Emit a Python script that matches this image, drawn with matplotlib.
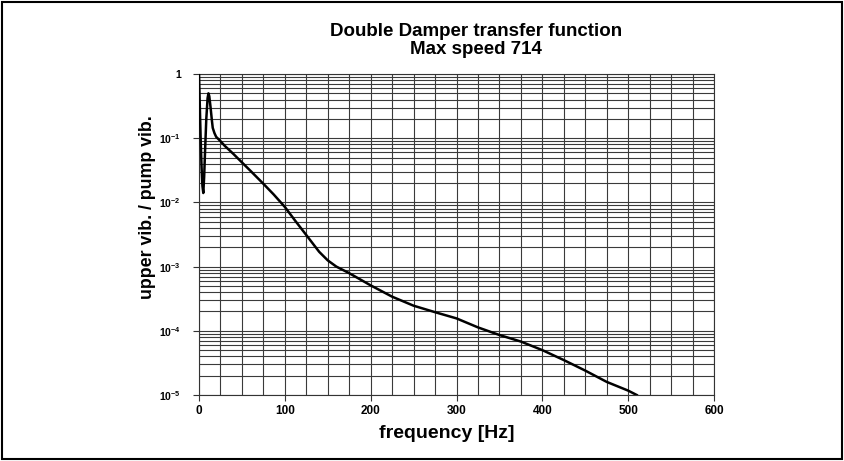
import matplotlib
matplotlib.use("Agg")
import matplotlib.pyplot as plt
from matplotlib.ticker import FixedLocator, LogLocator, NullFormatter
from matplotlib.patches import Rectangle

plt.rcParams["font.family"] = ["Liberation Sans", "DejaVu Sans"]
plt.rcParams["mathtext.fontset"] = "custom"
plt.rcParams["mathtext.rm"] = "Liberation Sans:bold"
plt.rcParams["mathtext.bf"] = "Liberation Sans:bold"

# dữ liệu
freq = [0, 1, 2, 3, 4, 5, 6, 7, 8.5, 10, 11, 12, 13.5, 15, 16, 18, 20, 25, 30,
        40, 50, 60, 75, 87, 100, 112, 125, 140, 150, 160, 175, 200, 225, 250,
        275, 300, 325, 350, 375, 400, 425, 450, 475, 500, 510]
ratio = [1.0, 0.3, 0.09, 0.035, 0.018, 0.014, 0.025, 0.06, 0.2, 0.42, 0.5, 0.45,
         0.3, 0.19, 0.145, 0.12, 0.105, 0.09, 0.076, 0.057, 0.042, 0.031, 0.0195,
         0.0133, 0.0085, 0.0052, 0.0031, 0.0017, 0.00125, 0.001, 0.00079, 0.00051,
         0.00034, 0.000246, 0.000195, 0.000156, 0.000113, 0.000086, 0.000068,
         0.00005, 0.000035, 0.000024, 0.000016, 0.0000117, 0.00001]

x_ticks = [0, 100, 200, 300, 400, 500, 600]
y_ticks = [1e-5, 1e-4, 1e-3, 1e-2, 1e-1, 1]
y_labels = [r"$10^{-5}$", r"$10^{-4}$", r"$10^{-3}$", r"$10^{-2}$", r"$10^{-1}$", "1"]

fig = plt.figure(figsize=(8.44, 4.61), dpi=100)
ax = fig.add_axes([199 / 844, 66 / 461, 515 / 844, 321 / 461])

ax.plot(freq, ratio, color="black", lw=1.8, zorder=3)
ax.set_yscale("log")
ax.set_xlim(0, 600)
ax.set_ylim(1e-5, 1)

# lưới
ax.xaxis.set_minor_locator(FixedLocator(range(0, 601, 25)))
ax.yaxis.set_minor_locator(LogLocator(base=10, subs=range(2, 10), numticks=20))
ax.yaxis.set_minor_formatter(NullFormatter())
ax.grid(which="both", color="#3a3a3a", lw=0.8)
ax.set_axisbelow(True)
ax.tick_params(which="minor", length=0)

ax.set_xticks(x_ticks)
ax.set_xticklabels([str(v) for v in x_ticks], fontweight="bold", fontsize=8.5)
ax.set_yticks(y_ticks)
ax.set_yticklabels(y_labels, fontsize=7.5, fontweight="bold")
ax.tick_params(which="major", length=4, width=0.8, color="#333333")
ax.tick_params(axis="y", pad=9)

for s in ax.spines.values():
    s.set_color("#333333")
    s.set_linewidth(0.8)

# tiêu đề và nhãn trục
fig.text(476 / 844, 1 - 31.5 / 461, "Double Damper transfer function",
         ha="center", va="center", fontsize=13.5, fontweight="bold")
fig.text(476 / 844, 1 - 50 / 461, "Max speed 714",
         ha="center", va="center", fontsize=13.5, fontweight="bold")
fig.text(447 / 844, 1 - 433 / 461, "frequency [Hz]",
         ha="center", va="center", fontsize=14, fontweight="bold")
fig.text(147 / 844, 1 - 207 / 461, "upper vib. / pump vib.", rotation=90,
         ha="center", va="center", fontsize=12.8, fontweight="bold")

# khung viền ngoài
fig.patches.append(Rectangle((0.002, 0.004), 0.996, 0.992, transform=fig.transFigure,
                             fill=False, edgecolor="black", lw=1.5))

fig.savefig("out.png", dpi=100)
